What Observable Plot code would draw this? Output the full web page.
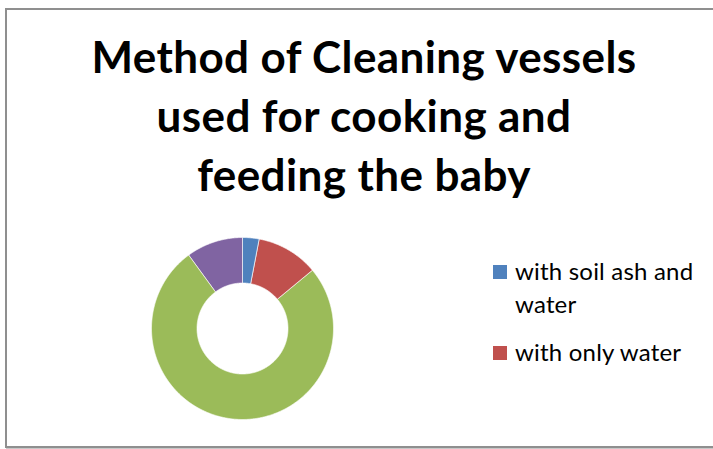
<!DOCTYPE html>
<html>
<head>
<meta charset="utf-8">
<script src="https://cdn.jsdelivr.net/npm/d3@7"></script>
<script src="https://cdn.jsdelivr.net/npm/@observablehq/plot@0.6"></script>
<style>
  html, body { margin: 0; padding: 0; background: #fff; }
  #wrap { position: relative; width: 713px; height: 449px; overflow: hidden; background: #fff; }
  #frame { position: absolute; left: 5px; top: 8px; width: 730px; height: 436px; border: 2px solid #8f8f8f; box-shadow: 1px 1px 0 #c8c8c8; }
  #chart { position: absolute; left: 0; top: 0; }
  #title { position: absolute; left: 14px; width: 700px; top: 27px; text-align: center; font-family: Lato, "Open Sans", sans-serif; font-weight: bold; font-size: 44px; letter-spacing: 0.4px; line-height: 59px; color: #000; }
  #legend { position: absolute; left: 493px; top: 254px; font-family: Lato, "Open Sans", sans-serif; font-size: 24px; letter-spacing: 0.2px; color: #000; }
  .item { position: relative; padding-left: 22px; line-height: 33px; margin-bottom: 15px; width: 205px; }
  .sw { position: absolute; left: 0; top: 11px; width: 14px; height: 14px; }
</style>
</head>
<body>
<div id="wrap">
  <div id="frame"></div>
  <div id="chart"></div>
  <div id="title">Method of Cleaning vessels<br>used for cooking and<br>feeding the baby</div>
  <div id="legend"></div>
</div>
<script>
// Data (percent shares, clockwise from 12 o'clock)
const categories = ["with soil ash and water", "with only water", "category 3", "category 4"];
const values = [3, 11, 76, 10];
const colors = ["#4f81bd", "#c0504d", "#9bbb59", "#8064a2"];
const legendCount = 2; // the reference legend shows only the first two entries
const innerRatio = 0.5;

const pie = d3.pie().sort(null).value(d => d.value)(categories.map((k, i) => ({key: k, value: values[i]})));
const pts = [];
for (const arc of pie) {
  const a0 = arc.startAngle, a1 = arc.endAngle;
  const n = Math.max(2, Math.ceil((a1 - a0) / (Math.PI / 360)));
  for (let j = 0; j <= n; j++) {
    const a = a0 + (a1 - a0) * j / n;
    pts.push({key: arc.data.key, x: Math.sin(a), y: Math.cos(a)});
  }
  for (let j = n; j >= 0; j--) {
    const a = a0 + (a1 - a0) * j / n;
    pts.push({key: arc.data.key, x: innerRatio * Math.sin(a), y: innerRatio * Math.cos(a)});
  }
}

const chart = Plot.plot({
  width: 713,
  height: 449,
  margin: 0,
  x: {domain: [-1, 1], range: [151, 333], axis: null},
  y: {domain: [-1, 1], range: [419, 237], axis: null},
  color: {domain: categories, range: colors},
  style: {background: "transparent"},
  marks: [
    Plot.line(pts, {x: "x", y: "y", z: "key", fill: "key", stroke: "white", strokeWidth: 0.8, strokeOpacity: 0.8, curve: "linear-closed"})
  ]
});
document.getElementById("chart").appendChild(chart);

const legend = document.getElementById("legend");
categories.slice(0, legendCount).forEach((c, i) => {
  const div = document.createElement("div");
  div.className = "item";
  const sw = document.createElement("span");
  sw.className = "sw";
  sw.style.background = colors[i];
  div.appendChild(sw);
  div.appendChild(document.createTextNode(c));
  legend.appendChild(div);
});
</script>
</body>
</html>
